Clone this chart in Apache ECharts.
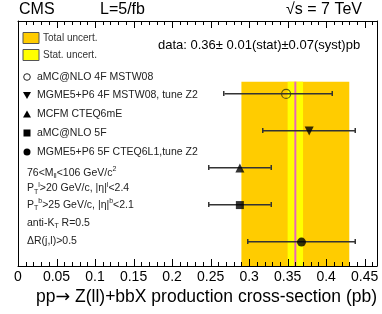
<!DOCTYPE html>
<html><head><meta charset="utf-8">
<script src="https://cdn.jsdelivr.net/npm/echarts@6/dist/echarts.min.js"></script>
<style>html,body{margin:0;padding:0;background:#fff}#c{width:382px;height:314px}</style>
</head><body><div id="c"></div>
<script>
// ---- data ----
const categories = ['aMC@NLO 4F MSTW08', 'MGME5+P6 4F MSTW08, tune Z2', 'MCFM CTEQ6mE', 'aMC@NLO 5F', 'MGME5+P6 5F CTEQ6L1,tune Z2'];
const central = [0.348, 0.378, 0.288, 0.288, 0.368];
const errLow  = [0.268, 0.318, 0.248, 0.248, 0.298];
const errHigh = [0.408, 0.438, 0.328, 0.328, 0.438];
const rowPos  = [5, 4, 3, 2, 1];
const measured = 0.36;
const statLow = 0.35, statHigh = 0.37;
const totalLow = 0.29, totalHigh = 0.43;
const xTickValues = [0, 0.05, 0.1, 0.15, 0.2, 0.25, 0.3, 0.35, 0.4, 0.45];
const xTickLabels = ['0', '0.05', '0.1', '0.15', '0.2', '0.25', '0.3', '0.35', '0.4', '0.45'];
const cuts = ['76<M{sub|ll}<106 GeV/c{sup|2}', 'P{sub|T}{sup|l}>20 GeV/c, |η|{sup|l}<2.4', 'P{sub|T}{sup|b}>25 GeV/c, |η|{sup|b}<2.1', 'anti-K{sub|T} R=0.5', 'ΔR(j,l)>0.5'];

// ---- layout ----
const FONT = '"Liberation Sans", Arial, sans-serif';
const X_MAX = 0.466;
const Y_MIN = 0.355, Y_MAX = 6.97, BAND_TOP = 5.33;
const symbols = ['circle', 'triangle', 'triangle', 'rect', 'circle'];
const rotations = [0, 180, 0, 0, 0];

// tick positions: majors from xTickValues, 4 minors between
const tickVals = [];
xTickValues.forEach(v => {
  tickVals.push([v, 1]);
  for (let j = 1; j < 5; j++) { const m = +(v + j * 0.01).toFixed(3); if (m < X_MAX) tickVals.push([m, 0]); }
});

const chart = echarts.init(document.getElementById('c'));

function makeX(pos, labels) {
  return {
    type: 'value', min: 0, max: X_MAX, interval: 0.05, position: pos,
    axisLine: {show: true, onZero: false, lineStyle: {color: '#000', width: 1}},
    splitLine: {show: false}, axisTick: {show: false}, minorTick: {show: false},
    axisLabel: labels ? {show: true, margin: 4, color: '#000', fontSize: 14, fontFamily: FONT, showMaxLabel: false,
        formatter: v => { const k = xTickValues.findIndex(t => Math.abs(t - v) < 1e-6); return k >= 0 ? xTickLabels[k] : ''; }}
      : {show: false}
  };
}
function makeY(pos) {
  return {type: 'value', min: Y_MIN, max: Y_MAX, position: pos,
    axisLine: {show: true, onZero: false, lineStyle: {color: '#000', width: 1}},
    axisTick: {show: false}, axisLabel: {show: false}, splitLine: {show: false}};
}

function bandItem(params, api) {
  const lo = api.value(0), hi = api.value(1);
  const p0 = api.coord([lo, BAND_TOP]);
  const p1 = api.coord([hi, Y_MIN]);
  return {type: 'rect', shape: {x: p0[0], y: p0[1], width: p1[0] - p0[0], height: p1[1] - p0[1]},
    style: {fill: api.value(2) === 0 ? '#ffcc00' : '#ffff00'}};
}

const legendGraphics = [];
const markerY = [77, 95.5, 114, 133, 152];
categories.forEach((name, i) => {
  const cx = 27, cy = markerY[i];
  let shape;
  if (i === 0) shape = {type: 'circle', shape: {cx, cy, r: 3.3}, style: {fill: 'none', stroke: '#222', lineWidth: 1}};
  else if (i === 1) shape = {type: 'polygon', shape: {points: [[cx - 4, cy - 3.5], [cx + 4, cy - 3.5], [cx, cy + 3.5]]}, style: {fill: '#000'}};
  else if (i === 2) shape = {type: 'polygon', shape: {points: [[cx - 4, cy + 3.5], [cx + 4, cy + 3.5], [cx, cy - 3.5]]}, style: {fill: '#000'}};
  else if (i === 3) shape = {type: 'rect', shape: {x: cx - 3.5, y: cy - 3.5, width: 7, height: 7}, style: {fill: '#000'}};
  else shape = {type: 'circle', shape: {cx, cy, r: 3.5}, style: {fill: '#000'}};
  legendGraphics.push(shape);
  legendGraphics.push({type: 'text', x: 37, y: cy, style: {text: name, font: '10.5px ' + FONT, fill: '#222', verticalAlign: 'middle'}});
});
const cutY = [173, 188.5, 205, 223, 241];
cuts.forEach((t, i) => {
  legendGraphics.push({type: 'text', x: 27, y: cutY[i], style: {
    text: t, fontFamily: FONT, fontSize: 10.5, fill: '#222', verticalAlign: 'middle', lineHeight: 14,
    rich: {sub: {fontSize: 7, verticalAlign: 'bottom', fontFamily: FONT, fill: '#222', lineHeight: 14},
           sup: {fontSize: 7, verticalAlign: 'top', fontFamily: FONT, fill: '#222', lineHeight: 14}}
  }});
});

const staticGraphics = [
  {type: 'text', x: 19, y: 10, style: {text: 'CMS', font: '16px ' + FONT, fill: '#000', verticalAlign: 'middle'}},
  {type: 'text', x: 100, y: 10, style: {text: 'L=5/fb', font: '16px ' + FONT, fill: '#000', verticalAlign: 'middle'}},
  {type: 'text', x: 362, y: 10, style: {text: '√s = 7 TeV', font: '16px ' + FONT, fill: '#000', verticalAlign: 'middle', align: 'right'}},
  {type: 'rect', shape: {x: 23, y: 32.5, width: 16, height: 11}, style: {fill: '#ffcc00', stroke: '#555', lineWidth: 1}},
  {type: 'rect', shape: {x: 23, y: 49.5, width: 16, height: 11}, style: {fill: '#ffff00', stroke: '#555', lineWidth: 1}},
  {type: 'text', x: 43, y: 38, style: {text: 'Total uncert.', font: '10px ' + FONT, fill: '#333', verticalAlign: 'middle'}},
  {type: 'text', x: 43, y: 55, style: {text: 'Stat. uncert.', font: '10px ' + FONT, fill: '#333', verticalAlign: 'middle'}},
  {type: 'text', x: 158, y: 45, style: {text: 'data: 0.36± 0.01(stat)±0.07(syst)pb', font: '13px ' + FONT, fill: '#000', verticalAlign: 'middle'}},
  {type: 'text', x: 377, y: 297, style: {text: 'pp{ar|→} Z(ll)+bbX production cross-section (pb)', fontFamily: FONT, fontSize: 17.5, fill: '#000', verticalAlign: 'middle', align: 'right',
    rich: {ar: {fontFamily: '"DejaVu Sans"', fontSize: 17.5, fill: '#000'}}}},
  ...legendGraphics
];

chart.setOption({
  animation: false,
  grid: {left: 18, right: 5, top: 21, bottom: 48},
  xAxis: [makeX('bottom', true), makeX('top', false)],
  yAxis: [makeY('left'), makeY('right')],
  series: [
    {type: 'custom', renderItem: bandItem, data: [[totalLow, totalHigh, 0], [statLow, statHigh, 1]], z: 1, silent: true},
    {type: 'custom', z: 2, silent: true, data: [[measured, Y_MIN]], renderItem: (p, api) => {
      const a = api.coord([api.value(0), BAND_TOP]), b = api.coord([api.value(0), Y_MIN]);
      return {type: 'rect', shape: {x: a[0] - 1, y: a[1], width: 2, height: b[1] - a[1]}, style: {fill: '#e868b8'}};
    }},
    {type: 'custom', z: 3, silent: true,
      data: rowPos.map((r, i) => [errLow[i], r, errHigh[i]]),
      renderItem: (p, api) => {
        const a = api.coord([api.value(0), api.value(1)]), b = api.coord([api.value(2), api.value(1)]);
        const y = Math.round(a[1]);
        return {type: 'group', children: [
          {type: 'rect', shape: {x: a[0], y: y - 1, width: b[0] - a[0], height: 1.5}, style: {fill: '#333'}},
          {type: 'rect', shape: {x: Math.round(a[0]) - 1, y: y - 3, width: 1.5, height: 5}, style: {fill: '#333'}},
          {type: 'rect', shape: {x: Math.round(b[0]) - 0.5, y: y - 3, width: 1.5, height: 5}, style: {fill: '#333'}}
        ]};
      }},
    ...categories.map((name, i) => ({
      type: 'scatter', name, z: 4, silent: true,
      symbol: symbols[i], symbolRotate: rotations[i], symbolSize: i === 3 ? 8 : 9,
      itemStyle: i === 0 ? {color: 'rgba(0,0,0,0)', borderColor: '#3a3a10', borderWidth: 1.2} : {color: '#000'},
      data: [[central[i], rowPos[i]]]
    }))
  ]
});

// tick marks placed through the axis scales (convertToPixel), drawn as graphic elements
const tickGraphics = [];
tickVals.forEach(([v, major]) => {
  const len = major ? 7 : 4;
  const b = chart.convertToPixel({xAxisIndex: 0, yAxisIndex: 0}, [v, Y_MIN]);
  const t = chart.convertToPixel({xAxisIndex: 0, yAxisIndex: 0}, [v, Y_MAX]);
  if (!b || !t) return;
  const x = Math.round(b[0]);
  tickGraphics.push({type: 'rect', z: 100, silent: true, shape: {x: x, y: Math.round(b[1]) - len, width: 1, height: len}, style: {fill: '#000'}});
  tickGraphics.push({type: 'rect', z: 100, silent: true, shape: {x: x, y: Math.round(t[1]), width: 1, height: len}, style: {fill: '#000'}});
});

chart.setOption({graphic: staticGraphics.concat(tickGraphics)});
</script></body></html>
